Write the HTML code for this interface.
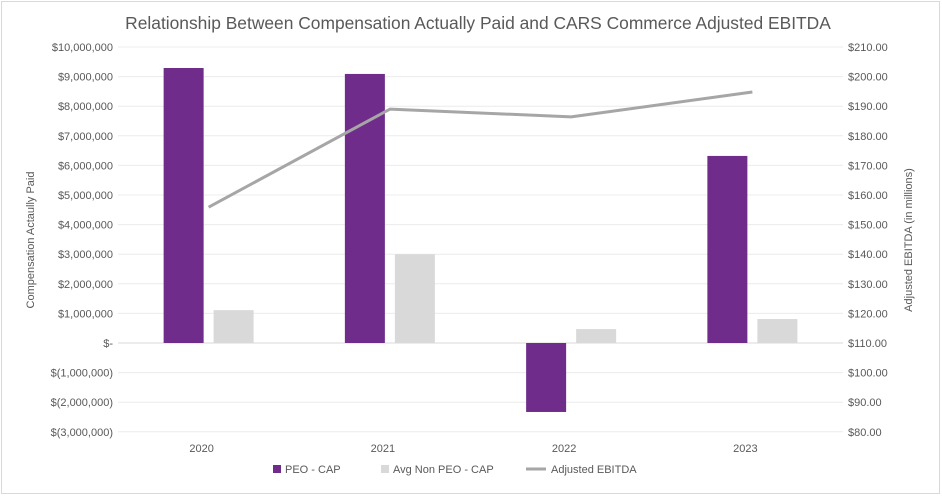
<!DOCTYPE html>
<html><head><style>
body{margin:0;background:#fff;}
svg text{font-family:"Liberation Sans",sans-serif;fill:#595959;}
</style></head><body>
<svg id="c" width="942" height="496">
<rect x="1.5" y="1.5" width="938" height="492" fill="#fff" stroke="#d9d9d9"/>
<text x="478" y="29" text-anchor="middle" font-size="17.4">Relationship Between Compensation Actually Paid and CARS Commerce Adjusted EBITDA</text>
<g id="grid"></g><g id="bars"></g><g id="line"></g><g id="ticks"></g>
<text transform="translate(34,240) rotate(-90)" text-anchor="middle" font-size="11">Compensation Actaully Paid</text>
<text transform="translate(912,240) rotate(-90)" text-anchor="middle" font-size="11">Adjusted EBITDA (in millions)</text>
<g>
<rect x="273" y="465" width="8" height="8" fill="#6f2c8a"/>
<text x="285" y="473" font-size="11">PEO - CAP</text>
<rect x="381" y="465" width="8" height="8" fill="#d9d9d9"/>
<text x="393" y="473" font-size="11">Avg Non PEO - CAP</text>
<line x1="526" y1="469" x2="546" y2="469" stroke="#a6a6a6" stroke-width="3"/>
<text x="551" y="473" font-size="11">Adjusted EBITDA</text>
</g>
</svg>
<script>
const categories=["2020","2021","2022","2023"];
const peoCap=[9290000,9090000,-2330000,6320000];
const nonPeoCap=[1110000,3000000,470000,810000];
const ebitda=[155.9,189.0,186.4,194.8];
const leftTicks=[10000000,9000000,8000000,7000000,6000000,5000000,4000000,3000000,2000000,1000000,0,-1000000,-2000000,-3000000];
const rightTicks=[210,200,190,180,170,160,150,140,130,120,110,100,90,80];
const NS="http://www.w3.org/2000/svg";
const x0=118,x1=843,band=(x1-x0)/categories.length;
const yL=v=>343-v/1e6*29.6;
const yR=v=>343-(v-110)*2.96;
const cx=i=>x0+band*(i+0.5);
function mk(t,a,p){const e=document.createElementNS(NS,t);for(const k in a)e.setAttribute(k,a[k]);p.appendChild(e);return e;}
const grid=document.getElementById('grid'),bars=document.getElementById('bars'),line=document.getElementById('line'),ticks=document.getElementById('ticks');
function fmt(v){if(v===0)return "$-";return v<0?"$("+Math.abs(v).toLocaleString('en-US')+")":"$"+v.toLocaleString('en-US');}
leftTicks.forEach(v=>{
 const y=yL(v);
 const g=mk('line',{x1:x0,x2:x1,y1:y,y2:y,stroke:v===0?'#d9d9d9':'#ececec','stroke-width':1},grid);
 
 
 const t=mk('text',{x:113,y:y+4,'text-anchor':'end','font-size':11},ticks);t.textContent=fmt(v);
 
 
});
rightTicks.forEach(v=>{
 const t=mk('text',{x:848,y:yR(v)+4,'font-size':11},ticks);t.textContent="$"+v.toFixed(2);
 
 
});
categories.forEach((c,i)=>{
 const t=mk('text',{x:cx(i)-7,y:452,'text-anchor':'middle','font-size':11},ticks);t.textContent=c;
 
 
 const a=yL(peoCap[i]),z=yL(0);
 const b=mk('rect',{x:cx(i)-45,y:Math.min(a,z),width:40,height:Math.abs(a-z),fill:'#6f2c8a'},bars);
 
 
 const a2=yL(nonPeoCap[i]);
 const b2=mk('rect',{x:cx(i)+5,y:Math.min(a2,z),width:40,height:Math.abs(a2-z),fill:'#d9d9d9'},bars);
 
 
});
const pts=ebitda.map((v,i)=>cx(i)+","+yR(v)).join(" ");
const pl=mk('polyline',{points:pts,fill:'none',stroke:'#a6a6a6','stroke-width':3,'stroke-linejoin':'round'},line);


</script>
</body></html>
